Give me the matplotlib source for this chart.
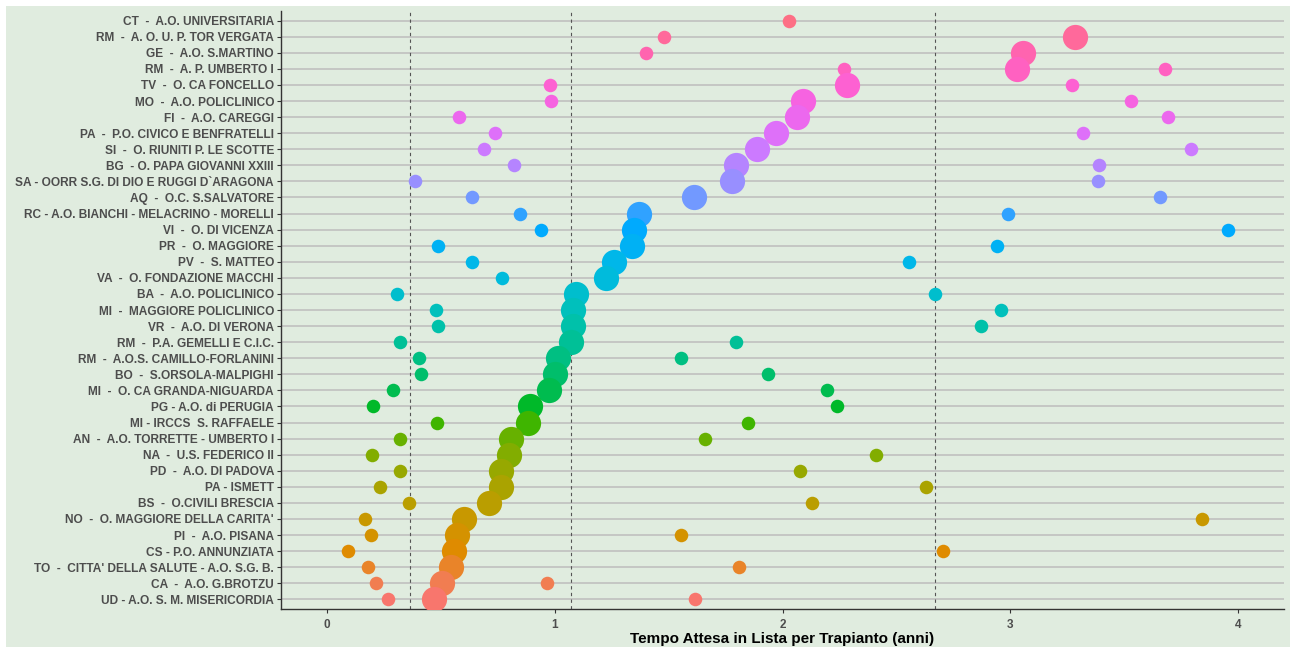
import numpy as np
import matplotlib
matplotlib.use('Agg')
import matplotlib.pyplot as plt
from matplotlib.patches import Rectangle

# centri, dall'alto verso il basso
centri = ["CT  -  A.O. UNIVERSITARIA",
          "RM  -  A. O. U. P. TOR VERGATA",
          "GE  -  A.O. S.MARTINO",
          "RM  -  A. P. UMBERTO I",
          "TV  -  O. CA FONCELLO",
          "MO  -  A.O. POLICLINICO",
          "FI  -  A.O. CAREGGI",
          "PA  -  P.O. CIVICO E BENFRATELLI",
          "SI  -  O. RIUNITI P. LE SCOTTE",
          "BG  - O. PAPA GIOVANNI XXIII",
          "SA - OORR S.G. DI DIO E RUGGI D`ARAGONA",
          "AQ  -  O.C. S.SALVATORE",
          "RC - A.O. BIANCHI - MELACRINO - MORELLI",
          "VI  -  O. DI VICENZA",
          "PR  -  O. MAGGIORE",
          "PV  -  S. MATTEO",
          "VA  -  O. FONDAZIONE MACCHI",
          "BA  -  A.O. POLICLINICO",
          "MI  -  MAGGIORE POLICLINICO",
          "VR  -  A.O. DI VERONA",
          "RM  -  P.A. GEMELLI E C.I.C.",
          "RM  -  A.O.S. CAMILLO-FORLANINI",
          "BO  -  S.ORSOLA-MALPIGHI",
          "MI  -  O. CA GRANDA-NIGUARDA",
          "PG - A.O. di PERUGIA",
          "MI - IRCCS  S. RAFFAELE",
          "AN  -  A.O. TORRETTE - UMBERTO I",
          "NA  -  U.S. FEDERICO II",
          "PD  -  A.O. DI PADOVA",
          "PA - ISMETT",
          "BS  -  O.CIVILI BRESCIA",
          "NO  -  O. MAGGIORE DELLA CARITA'",
          "PI  -  A.O. PISANA",
          "CS - P.O. ANNUNZIATA",
          "TO  -  CITTA' DELLA SALUTE - A.O. S.G. B.",
          "CA  -  A.O. G.BROTZU",
          "UD - A.O. S. M. MISERICORDIA"]

# tempi in anni (None = mancante)
primo = [2.03, 1.48, 1.40, 2.27, 0.98, 0.985, 0.58, 0.74, 0.69, 0.82,
         0.39, 0.64, 0.85, 0.94, 0.49, 0.64, 0.77, 0.31, 0.48, 0.49,
         0.32, 0.405, 0.415, 0.29, 0.205, 0.485, 0.32, 0.20, 0.32, 0.235,
         0.36, 0.17, 0.195, 0.095, 0.18, 0.215, 0.27]
mediana = [None, 3.285, 3.055, 3.03, 2.285, 2.09, 2.065, 1.97, 1.89, 1.795,
           1.78, 1.61, 1.372, 1.348, 1.338, 1.263, 1.227, 1.093, 1.083, 1.08,
           1.071, 1.013, 1.0, 0.976, 0.893, 0.882, 0.811, 0.802, 0.764, 0.764,
           0.711, 0.601, 0.570, 0.559, 0.544, 0.508, 0.470]
terzo = [None, None, None, 3.68, 3.27, 3.53, 3.69, 3.32, 3.79, 3.39,
         3.385, 3.655, 2.99, 3.955, 2.94, 2.555, None, 2.67, 2.96, 2.87,
         1.795, 1.555, 1.935, 2.195, 2.24, 1.85, 1.66, 2.41, 2.075, 2.63,
         2.13, 3.84, 1.555, 2.705, 1.81, 0.967, 1.615]

soglie = [0.368, 1.073, 2.668]


def hue_pal(n):
    # palette hue di ggplot (hcl, l=65, c=100)
    h = np.linspace(15, 375, n + 1)[:n]
    L, C = 65.0, 100.0
    Xn, Yn, Zn = 95.047, 100.0, 108.883
    un = 4 * Xn / (Xn + 15 * Yn + 3 * Zn)
    vn = 9 * Yn / (Xn + 15 * Yn + 3 * Zn)
    out = []
    for hh in h:
        u = C * np.cos(np.radians(hh))
        v = C * np.sin(np.radians(hh))
        Y = Yn * ((L + 16) / 116) ** 3
        up = u / (13 * L) + un
        vp = v / (13 * L) + vn
        X = Y * 9 * up / (4 * vp)
        Z = Y * (12 - 3 * up - 20 * vp) / (4 * vp)
        X, Y2, Z = X / 100, Y / 100, Z / 100
        r = 3.240479 * X - 1.537150 * Y2 - 0.498535 * Z
        g = -0.969256 * X + 1.875992 * Y2 + 0.041556 * Z
        b = 0.055648 * X - 0.204043 * Y2 + 1.057311 * Z
        rgb = []
        for c in (r, g, b):
            c = 12.92 * c if c <= 0.0031308 else 1.055 * c ** (1 / 2.4) - 0.055
            rgb.append(min(max(c, 0), 1))
        out.append(tuple(rgb))
    return out


n = len(centri)
colori = hue_pal(n)  # primo livello in basso
verde = '#E0ECDF'

fig = plt.figure(figsize=(12.97, 6.47), dpi=100, facecolor='white')
fig.patches.append(Rectangle((6 / 1297, 0), 1284 / 1297, 641 / 647,
                             transform=fig.transFigure, facecolor=verde,
                             edgecolor='none', zorder=-10))
ax = fig.add_axes([281 / 1297, 1 - 609 / 647, 1003 / 1297, 598 / 647])
ax.set_facecolor(verde)

for i in range(n):
    y = n - 1 - i
    ax.axhline(y, color='#BDBDBD', lw=1.1, zorder=0)

for xs in soglie:
    ax.axvline(xs, color='#555555', lw=0.8, ls=(0, (3, 3)), zorder=1)

for i in range(n):
    y = n - 1 - i
    c = colori[y]
    if primo[i] is not None:
        ax.scatter(primo[i], y, s=95, color=c, lw=0, zorder=3)
    if terzo[i] is not None:
        ax.scatter(terzo[i], y, s=95, color=c, lw=0, zorder=3)
    if mediana[i] is not None:
        ax.scatter(mediana[i], y, s=330, color=c, lw=0, zorder=4)

ax.set_xlim(-0.2, 4.2)
ax.set_ylim(-0.6, n - 0.4)
ax.set_yticks(range(n))
ax.set_yticklabels(centri[::-1], fontsize=8.6, fontweight='bold',
                   color='#4D4D4D', family='Liberation Sans')
ax.set_xticks([0, 1, 2, 3, 4])
ax.set_xticklabels(['0', '1', '2', '3', '4'], fontsize=8.5, fontweight='bold',
                   color='#4D4D4D', family='Liberation Sans')
ax.tick_params(length=3, width=0.8, color='#333333', pad=2)
ax.tick_params(axis='x', pad=4)
ax.set_xlabel('Tempo Attesa in Lista per Trapianto (anni)', fontsize=11,
              fontweight='bold', family='Liberation Sans', labelpad=1)
for s in ['top', 'right']:
    ax.spines[s].set_visible(False)
for s in ['left', 'bottom']:
    ax.spines[s].set_color('#333333')
    ax.spines[s].set_linewidth(1.0)

fig.savefig('out.png', dpi=100, facecolor='white')
